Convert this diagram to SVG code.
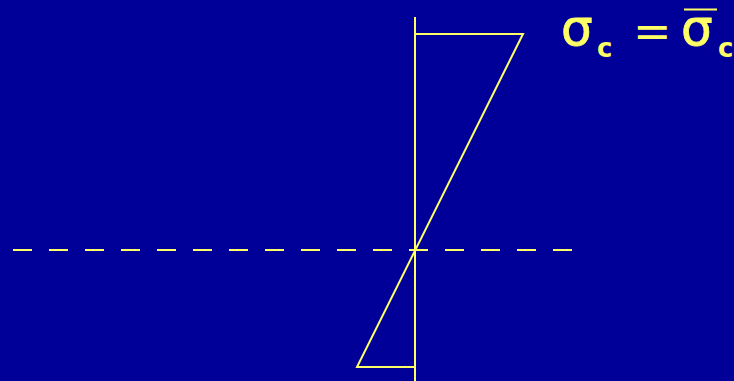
<svg xmlns="http://www.w3.org/2000/svg" width="734" height="381" viewBox="0 0 734 381">
<style>
.ln{stroke:#ffff66;stroke-width:2;fill:none}
.t{fill:#ffff66;font-family:"DejaVu Sans","Liberation Sans",sans-serif}
</style>
<rect width="734" height="381" fill="#000099"/>
<g id="axis-neutral">
<line class="ln" x1="13" y1="250" x2="572" y2="250" stroke-dasharray="19 17"/>
</g>
<g id="axis-vertical">
<line class="ln" x1="415" y1="17" x2="415" y2="381"/>
</g>
<g id="stress-diagram">
<polyline class="ln" points="415,34 523,34 357,367 415,367"/>
</g>
<g id="label">
<text class="t" x="561" y="45" font-size="50" stroke="#ffff66" stroke-width="0.8">σ</text>
<text class="t" x="597" y="57" font-size="26" font-weight="bold">c</text>
<text class="t" x="633" y="47" font-size="46">=</text>
<text class="t" x="681" y="45" font-size="50" stroke="#ffff66" stroke-width="0.8">σ</text>
<line class="ln" x1="684" y1="9.5" x2="717" y2="9.5" stroke-width="3"/>
<text class="t" x="718" y="57" font-size="26" font-weight="bold">c</text>
</g>
</svg>
